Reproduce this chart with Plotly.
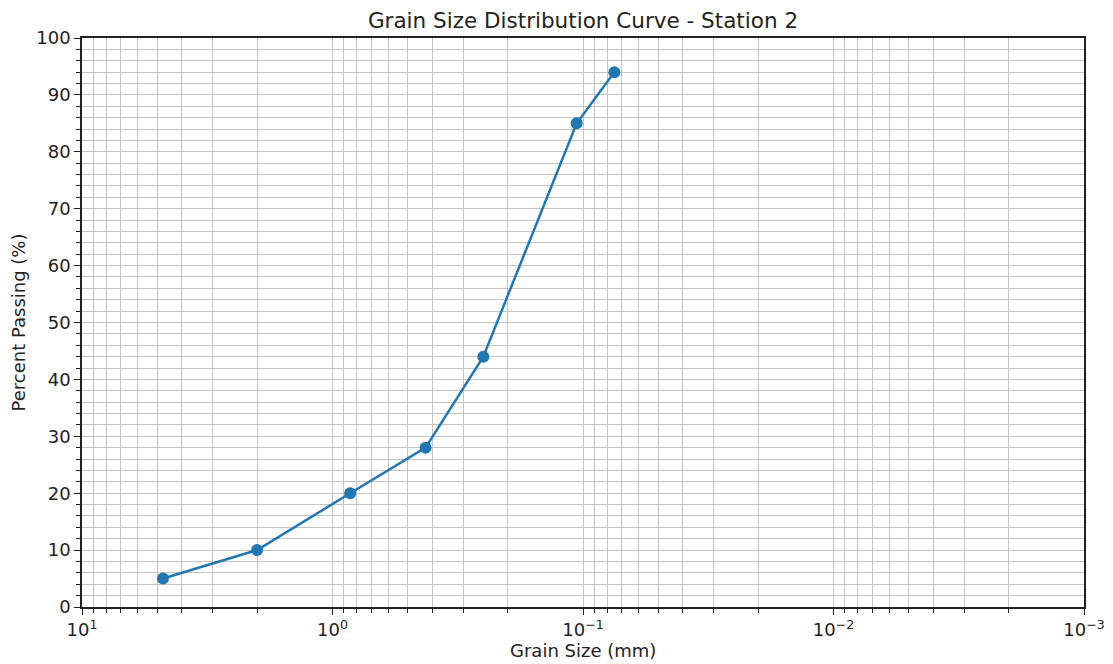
import plotly.graph_objects as go

grain_size_mm = [4.75, 2.0, 0.85, 0.425, 0.25, 0.106, 0.075]
percent_passing = [5, 10, 20, 28, 44, 85, 94]

x_tickvals = [10, 1, 0.1, 0.01, 0.001]
x_ticktext = ["10<sup>1</sup>", "10<sup>0</sup>", "10<sup>\u22121</sup>", "10<sup>\u22122</sup>", "10<sup>\u22123</sup>"]
minor_digits = [2, 3, 4, 5, 6, 7, 8, 9]
decades = [0.001, 0.01, 0.1, 1]
x_minor_vals = [d * m for d in decades for m in minor_digits]

FONT = "DejaVu Sans, sans-serif"
GRID = "#c4c4c4"
INK = "#222222"

fig = go.Figure()
fig.add_trace(go.Scatter(
    x=grain_size_mm, y=percent_passing, mode="lines+markers",
    line=dict(color="#1f77b4", width=2.5),
    marker=dict(color="#1f77b4", size=12),
    showlegend=False,
))

fig.update_layout(
    width=1105, height=656,
    margin=dict(l=74, r=29, t=30, b=57),
    plot_bgcolor="white", paper_bgcolor="white",
    font=dict(family=FONT, size=18, color=INK),
    title=dict(text="Grain Size Distribution Curve - Station 2", x=0.5, xref="paper",
               y=1 - 12 / 656, yref="container", yanchor="middle", xanchor="center",
               font=dict(size=21.5, color=INK)),
)

fig.add_annotation(
    text="Grain Size (mm)", xref="paper", yref="paper", x=0.5, y=-43 / 569,
    xanchor="center", yanchor="middle", showarrow=False,
    font=dict(size=18, color=INK),
)

fig.update_xaxes(
    type="log", range=[1, -3], automargin=False,
    tickvals=x_tickvals, ticktext=x_ticktext,
    showgrid=True, gridcolor=GRID, gridwidth=1.3,
    ticks="outside", ticklen=6, tickwidth=1.3, tickcolor=INK,
    minor=dict(tickvals=x_minor_vals, showgrid=True, gridcolor=GRID, gridwidth=1.3,
               ticks="outside", ticklen=4, tickwidth=1, tickcolor=INK),
    showline=True, linecolor=INK, linewidth=1.5, mirror=True,
    zeroline=False,
    tickfont=dict(size=18),
)
fig.update_yaxes(
    range=[0, 100], dtick=10, automargin=False,
    showgrid=True, gridcolor=GRID, gridwidth=1.3,
    ticks="outside", ticklen=6, tickwidth=1.3, tickcolor=INK,
    minor=dict(dtick=2, showgrid=True, gridcolor=GRID, gridwidth=1.3,
               ticks="outside", ticklen=4, tickwidth=1, tickcolor=INK),
    showline=True, linecolor=INK, linewidth=1.5, mirror=True,
    zeroline=False,
    title=dict(text="Percent Passing (%)", font=dict(size=18), standoff=8),
    tickfont=dict(size=18),
)

fig.write_html("out.html")
